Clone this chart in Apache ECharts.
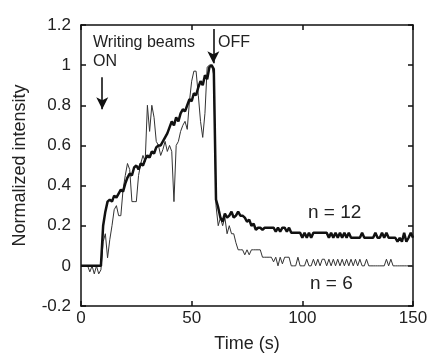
<!DOCTYPE html>
<html><head><meta charset="utf-8">
<script src="https://cdn.jsdelivr.net/npm/echarts@6/dist/echarts.min.js"></script>
<style>html,body{margin:0;padding:0;background:#fff}#c{width:432px;height:358px}</style>
</head><body><div id="c"></div>
<script>
// sampling step of both traces (seconds)
const sampleStep = 1;
const xTickInterval = 50;
const yTickInterval = 0.2;
const xRange = [0, 150];
const yRange = [-0.2, 1.2];

// n = 12 (thick trace), one value per second from t = 0 to 150 s
const n12 = [
  0,0,0,0,0,0,0,0,0,0,
  0.20,0.27,0.32,0.33,0.32,0.35,0.34,0.36,0.38,0.37,
  0.41,0.44,0.46,0.45,0.49,0.50,0.48,0.51,0.50,0.53,
  0.55,0.54,0.57,0.56,0.59,0.60,0.60,0.62,0.64,0.66,
  0.69,0.72,0.70,0.74,0.72,0.76,0.78,0.77,0.80,0.83,
  0.82,0.86,0.85,0.89,0.92,0.90,0.95,0.93,0.99,1.00,
  0.98,0.33,0.29,0.24,0.22,0.26,0.24,0.25,0.27,0.24,
  0.25,0.27,0.25,0.25,0.24,0.22,0.23,0.20,0.21,0.18,
  0.19,0.19,0.18,0.19,0.19,0.19,0.19,0.19,0.17,0.19,
  0.17,0.19,0.19,0.17,0.19,0.165,0.165,0.165,0.165,0.165,
  0.14,0.165,0.14,0.165,0.14,0.165,0.165,0.165,0.165,0.165,
  0.165,0.165,0.14,0.165,0.14,0.165,0.14,0.165,0.14,0.165,
  0.14,0.165,0.14,0.14,0.14,0.14,0.14,0.165,0.14,0.14,
  0.14,0.14,0.14,0.165,0.14,0.14,0.165,0.14,0.165,0.14,
  0.14,0.14,0.14,0.12,0.14,0.12,0.165,0.12,0.14,0.165,0.14
];

// n = 6 (thin trace)
const n6 = [
  0,0,0,0,-0.03,0,-0.04,0,-0.04,-0.02,
  0.12,0.16,0.04,0.13,0.20,0.28,0.30,0.25,0.25,0.38,
  0.45,0.51,0.48,0.32,0.32,0.32,0.45,0.51,0.55,0.52,
  0.80,0.67,0.80,0.74,0.62,0.60,0.55,0.58,0.62,0.57,
  0.60,0.57,0.32,0.60,0.62,0.67,0.70,0.72,0.68,0.82,
  0.92,0.97,0.97,0.85,0.72,0.64,0.76,0.99,1.00,1.00,
  0.95,0.30,0.20,0.24,0.20,0.24,0.16,0.20,0.16,0.16,
  0.115,0.08,0.08,0.08,0.055,0.08,0.055,0.08,0.08,0.08,
  0.08,0.08,0.043,0.043,0.043,0.043,0.043,0.02,0.043,0,
  0.043,0.01,0.043,0.043,0.043,0,0,0,0.043,0,
  0,0,0.033,0,0,0.033,0,0.033,0,0.033,
  0.033,0,0.033,0,0.033,0,0.033,0,0.033,0,
  0.033,0,0.033,0,0.033,0,0.033,0,0,0.033,
  0,0,0,0,0,0,0,0,0.033,0,
  0.033,0,0,0,0,0,0,0,0,0,0
];

// annotation arrows: [time, yStart, yEnd]
const arrowOn = [9.6, 0.94, 0.78];
const arrowOff = [59.8, 1.18, 1.01];

const timeS = n12.map((_, i) => i * sampleStep);
const pairs = (vals) => vals.map((v, i) => [timeS[i], v]);

const FONT = 'Liberation Sans, Arial, sans-serif';
const TXT = '#222';

const chart = echarts.init(document.getElementById('c'), null, {renderer: 'canvas'});

const axisLine = {show: true, onZero: false, lineStyle: {color: '#111', width: 1.5}};
const axisTick = {show: true, inside: true, length: 5, lineStyle: {color: '#111', width: 1.5}};

chart.setOption({
  animation: false,
  backgroundColor: '#fff',
  grid: {left: 81, right: 19, top: 25, bottom: 52, containLabel: false},
  xAxis: [{
    type: 'value', min: xRange[0], max: xRange[1], interval: xTickInterval, position: 'bottom',
    axisLine, axisTick, splitLine: {show: false},
    axisLabel: {fontSize: 17, color: TXT, fontFamily: FONT, margin: 4},
    name: 'Time (s)', nameLocation: 'middle', nameGap: 29,
    nameTextStyle: {fontSize: 18, color: TXT, fontFamily: FONT}
  }, {
    type: 'value', min: xRange[0], max: xRange[1], interval: xTickInterval, position: 'top',
    axisLine, axisTick, splitLine: {show: false}, axisLabel: {show: false}
  }],
  yAxis: [{
    type: 'value', min: yRange[0], max: yRange[1], interval: yTickInterval, position: 'left',
    axisLine, axisTick, splitLine: {show: false},
    axisLabel: {fontSize: 17, color: TXT, fontFamily: FONT, margin: 10},
    name: 'Normalized intensity', nameLocation: 'middle', nameGap: 52,
    nameTextStyle: {fontSize: 18, color: TXT, fontFamily: FONT}
  }, {
    type: 'value', min: yRange[0], max: yRange[1], interval: yTickInterval, position: 'right',
    axisLine, axisTick, splitLine: {show: false}, axisLabel: {show: false}
  }],
  series: [{
    name: 'n = 6', type: 'line', data: pairs(n6), showSymbol: false, symbol: 'none',
    lineStyle: {color: '#333', width: 1}, z: 2
  }, {
    name: 'n = 12', type: 'line', data: pairs(n12), showSymbol: false, symbol: 'none',
    lineStyle: {color: '#111', width: 2.5}, z: 3,
    markLine: {
      silent: true, symbol: ['none', 'arrow'], symbolSize: [9, 12],
      label: {show: false},
      lineStyle: {color: '#111', width: 1.6, type: 'solid'},
      data: [
        [{coord: [arrowOn[0], arrowOn[1]]}, {coord: [arrowOn[0], arrowOn[2]]}],
        [{coord: [arrowOff[0], arrowOff[1]]}, {coord: [arrowOff[0], arrowOff[2]]}]
      ]
    }
  }],
  graphic: [
    {type: 'text', left: 93, top: 35, style: {text: 'Writing beams', fontSize: 16, fill: TXT, fontFamily: FONT}},
    {type: 'text', left: 93, top: 54, style: {text: 'ON', fontSize: 16, fill: TXT, fontFamily: FONT}},
    {type: 'text', left: 218, top: 35, style: {text: 'OFF', fontSize: 16, fill: TXT, fontFamily: FONT}},
    {type: 'text', left: 308, top: 203, style: {text: 'n = 12', fontSize: 19, fill: TXT, fontFamily: FONT}},
    {type: 'text', left: 310, top: 274, style: {text: 'n = 6', fontSize: 19, fill: TXT, fontFamily: FONT}}
  ]
});
</script>
</body></html>
